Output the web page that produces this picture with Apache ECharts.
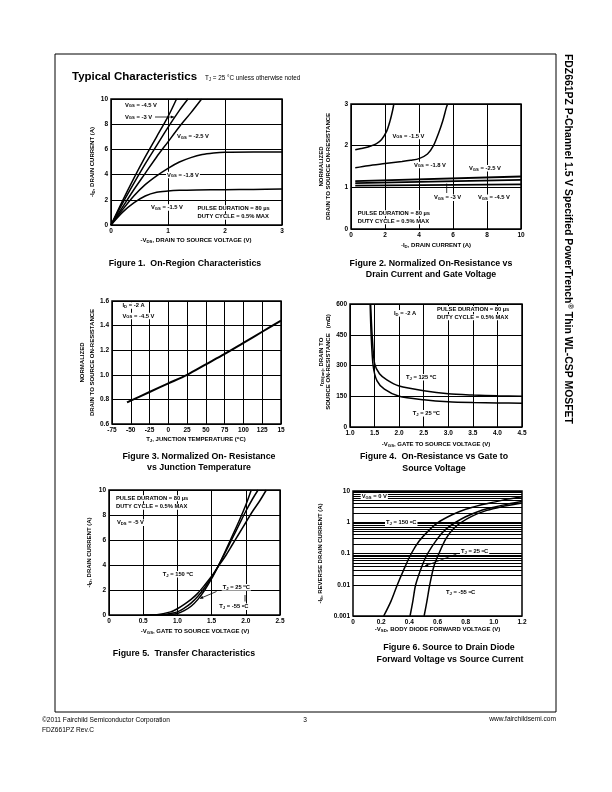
<!DOCTYPE html>
<html><head><meta charset="utf-8">
<script src="https://cdn.jsdelivr.net/npm/echarts@6/dist/echarts.min.js"></script>
<style>html,body{margin:0;padding:0;background:#fff}#c{width:612px;height:792px}</style>
</head><body><div id="c"></div>
<script>
// ---------- DATA ----------
// Figure 1: -VDS (V) vs -ID (A)
const fig1_vgs45 = [[0,0],[0.2,1.9],[0.4,3.7],[0.6,5.4],[0.8,7.0],[1.0,8.6],[1.15,10]];
const fig1_vgs3  = [[0,0],[0.2,1.7],[0.4,3.3],[0.6,4.85],[0.8,6.3],[1.0,7.75],[1.2,9.1],[1.35,10]];
const fig1_vgs25 = [[0,0],[0.2,1.4],[0.4,2.8],[0.6,4.1],[0.8,5.4],[1.0,6.6],[1.2,7.8],[1.4,8.9],[1.59,10]];
const fig1_vgs18 = [[0,0],[0.2,1.2],[0.4,2.3],[0.6,3.2],[0.8,3.9],[1.0,4.5],[1.2,5.0],[1.4,5.35],[1.6,5.6],[1.8,5.72],[2.0,5.78],[2.5,5.8],[3.0,5.8]];
const fig1_vgs15 = [[0,0],[0.2,1.0],[0.4,1.75],[0.6,2.3],[0.8,2.6],[1.0,2.7],[1.2,2.75],[1.5,2.78],[2.0,2.8],[2.5,2.82],[3.0,2.85]];
// Figure 2: -ID (A) vs normalized RDS(on)
const fig2_vgs15 = [[0.25,1.9],[0.6,1.93],[1.0,1.97],[1.5,2.05],[1.8,2.15],[2.1,2.35],[2.3,2.6],[2.45,2.85],[2.52,3.0]];
const fig2_vgs18 = [[0.25,1.47],[1,1.52],[2,1.57],[3,1.62],[3.5,1.65],[4,1.69],[4.5,1.8],[4.85,2.0],[5.15,2.3],[5.4,2.6],[5.6,2.9],[5.68,3.0]];
const fig2_vgs25 = [[0.25,1.15],[10,1.26]];
const fig2_vgs3  = [[0.25,1.1],[10,1.18]];
const fig2_vgs45 = [[0.25,1.04],[10,1.07]];
// Figure 3: TJ (°C) vs normalized RDS(on)
const fig3_temp = [-55,-50,-25,0,25,50,75,100,125,150];
const fig3_norm = [0.775,0.79,0.86,0.93,1.0,1.085,1.17,1.26,1.35,1.44];
// Figure 4: -VGS (V) vs rDS(on) (mOhm)
const fig4_tj125 = [[1.42,600],[1.45,450],[1.5,310],[1.6,260],[1.75,230],[2.0,200],[2.5,177],[3.0,162],[3.5,156],[4.0,152],[4.5,150]];
const fig4_tj25  = [[1.41,600],[1.43,450],[1.47,300],[1.55,225],[1.7,185],[2.0,150],[2.5,133],[3.0,123],[3.5,119],[4.0,117],[4.5,116]];
// Figure 5: -VGS (V) vs -ID (A)
const fig5_tj150 = [[0.5,0],[0.7,0.03],[0.9,0.25],[1.0,0.5],[1.1,0.85],[1.2,1.25],[1.3,1.75],[1.4,2.4],[1.5,3.1],[1.6,3.9],[1.7,4.7],[1.8,5.6],[1.9,6.5],[2.0,7.4],[2.1,8.3],[2.2,9.1],[2.3,10]];
const fig5_tj25  = [[0.6,0],[0.8,0.05],[1.0,0.25],[1.1,0.55],[1.2,0.95],[1.3,1.5],[1.4,2.2],[1.5,3.0],[1.6,3.95],[1.7,5.0],[1.8,6.1],[1.9,7.2],[2.0,8.3],[2.1,9.3],[2.18,10]];
const fig5_tjm55 = [[0.7,0],[0.9,0.05],[1.0,0.12],[1.1,0.35],[1.2,0.7],[1.3,1.25],[1.4,2.0],[1.5,2.9],[1.6,3.95],[1.7,5.1],[1.8,6.3],[1.9,7.5],[2.0,8.8],[2.08,10]];
// Figure 6: -VSD (V) vs -IS (A), log
const fig6_tj150 = [[0.218,0.001],[0.27,0.003],[0.315,0.01],[0.36,0.03],[0.414,0.1],[0.47,0.25],[0.53,0.5],[0.6,0.95],[0.7,1.7],[0.8,2.6],[0.9,3.5],[1.0,4.4],[1.1,5.5],[1.2,6.6]];
const fig6_tj25  = [[0.405,0.001],[0.425,0.003],[0.445,0.01],[0.49,0.04],[0.53,0.1],[0.6,0.3],[0.66,0.6],[0.73,1.0],[0.8,1.5],[0.9,2.3],[1.0,3.0],[1.1,3.8],[1.2,4.6]];
const fig6_tjm55 = [[0.505,0.001],[0.525,0.003],[0.545,0.01],[0.575,0.04],[0.61,0.1],[0.66,0.3],[0.71,0.6],[0.77,1.0],[0.85,1.6],[0.95,2.4],[1.05,3.1],[1.2,4.1]];
const fig6_yTicks = [0.001,0.01,0.1,1,10];

// ---------- STYLE ----------
const FONT = '"Liberation Sans", Arial, Helvetica, sans-serif';
function rich(size, bold){
  const w = bold ? 'bold' : 'normal';
  return {
    s:{fontSize:size*0.72, fontWeight:w, fontFamily:FONT, fill:'#000', verticalAlign:'bottom', padding:[size*0.45,0,0,0]},
    p:{fontSize:size*0.72, fontWeight:w, fontFamily:FONT, fill:'#000', verticalAlign:'top', padding:[0,0,size*0.45,0]}
  };
}
function T(x, y, text, size, o){
  o = o || {};
  const bold = o.bold !== false;
  const st = {text:text, fontSize:size, fontWeight:bold?'bold':'normal', fontFamily:FONT, fill:'#000',
    textAlign:o.align||'left', textVerticalAlign:'middle', rich:rich(size,bold)};
  if (o.bg){ st.backgroundColor = '#fff'; st.padding = o.pad || [0,1,0,1]; }
  return {type:'text', x:x, y:y, rotation:o.rot||0, z:100, silent:true, style:st};
}
function L(x1,y1,x2,y2,w){ return {type:'line', z:99, silent:true, shape:{x1,y1,x2,y2}, style:{stroke:'#000', lineWidth:w||1}}; }
function Arrow(x1,y1,x2,y2){
  const a = Math.atan2(y2-y1,x2-x1), h=3.5, s=0.45;
  return [L(x1,y1,x2,y2,0.8), {type:'polygon', z:99, silent:true, shape:{points:[[x2,y2],[x2-h*Math.cos(a-s),y2-h*Math.sin(a-s)],[x2-h*Math.cos(a+s),y2-h*Math.sin(a+s)]]}, style:{fill:'#000'}}];
}

const grids = [
  {left:111, top:99, width:171, height:126},
  {left:351, top:104, width:170, height:125},
  {left:112, top:301, width:169, height:123},
  {left:350, top:304, width:172, height:123},
  {left:109, top:490, width:171, height:125},
  {left:353, top:491, width:169, height:125}
].map(g => Object.assign({show:true, borderColor:'#000', borderWidth:1.5, backgroundColor:'transparent'}, g));

const lab = (fmt) => ({fontSize:6.5, fontWeight:'bold', fontFamily:FONT, color:'#000', margin:3, formatter:fmt});
function axis(gi, type, min, max, interval, fmt, split){
  const a = {gridIndex:gi, type:type, min:min, max:max,
    axisLine:{show:false}, axisTick:{show:false}, axisLabel:lab(fmt),
    splitLine:{show: split!==false, lineStyle:{color:'#000', width:1}}};
  if (interval) a.interval = interval;
  if (type==='log') a.logBase = 10;
  return a;
}
const f1 = v => String(v);
const xAxis = [
  axis(0,'value',0,3,1,f1),
  axis(1,'value',0,10,2,f1),
  axis(2,'value',-75,150,25,v => v===150 ? '15' : String(v)),
  axis(3,'value',1,4.5,0.5,v => v.toFixed(1)),
  axis(4,'value',0,2.5,0.5,v => v===0 ? '0' : v.toFixed(1)),
  axis(5,'value',0,1.2,0.2,v => v===0 ? '0' : v.toFixed(1), false)
];
const yAxis = [
  axis(0,'value',0,10,2,f1),
  axis(1,'value',0,3,1,f1),
  axis(2,'value',0.6,1.6,0.2,v => v.toFixed(1)),
  axis(3,'value',0,600,150,f1),
  axis(4,'value',0,10,2,f1),
  axis(5,'log',0.001,10,null,v => String(parseFloat(v.toPrecision(3))))
];

const lineS = (i, data, w, sm) => ({type:'line', xAxisIndex:i, yAxisIndex:i, data:data, showSymbol:false, symbol:'none',
  smooth:(sm===undefined?0.3:sm), silent:true, lineStyle:{color:'#000', width:w||1.5}, z:5});

// minor log grid lines for figure 6
const minorLines = [];
for (let d = 0; d < fig6_yTicks.length-1; d++)
  for (let k = 2; k <= 9; k++) minorLines.push({yAxis: parseFloat((fig6_yTicks[d]*k).toPrecision(3))});

const series = [
  lineS(0, fig1_vgs45), lineS(0, fig1_vgs3), lineS(0, fig1_vgs25), lineS(0, fig1_vgs18), lineS(0, fig1_vgs15),
  lineS(1, fig2_vgs15), lineS(1, fig2_vgs18), lineS(1, fig2_vgs25, 1.8), lineS(1, fig2_vgs3, 1.8), lineS(1, fig2_vgs45, 1.8),
  lineS(2, fig3_temp.map((t,i)=>[t, fig3_norm[i]]), 2),
  lineS(3, fig4_tj125, 1.5, 0.25), lineS(3, fig4_tj25, 1.5, 0.25),
  lineS(4, fig5_tj150), lineS(4, fig5_tj25), lineS(4, fig5_tjm55),
  Object.assign(lineS(5, fig6_tj150), {markLine:{silent:true, symbol:'none', label:{show:false}, lineStyle:{color:'#000', type:'solid', width:1.2}, data:minorLines, z:1}}),
  lineS(5, fig6_tj25), lineS(5, fig6_tjm55)
];

const AT = 6, AN = 5.8, CAP = 8.8;
const gfx = [
  // page frame
  {type:'rect', z:1, silent:true, shape:{x:55, y:54, width:501, height:658}, style:{fill:'none', stroke:'#000', lineWidth:1}},
  // header
  T(72, 76.5, 'Typical Characteristics', 11.5),
  T(205, 78, 'T{s|J} = 25 °C unless otherwise noted', 6.3, {bold:false}),
  // side title
  T(568, 54, 'FDZ661PZ P-Channel 1.5 V Specified PowerTrench{p|®} Thin WL-CSP MOSFET', 10.4, {rot:-Math.PI/2}),
  // footer
  T(42, 720, '©2011 Fairchild Semiconductor Corporation', 6.6, {bold:false}),
  T(42, 730, 'FDZ661PZ Rev.C', 6.6, {bold:false}),
  T(305, 720, '3', 6.6, {bold:false, align:'center'}),
  T(556, 719, 'www.fairchildsemi.com', 6.6, {bold:false, align:'right'}),

  // ---- Figure 1 ----
  T(92, 162, '-I{s|D}, DRAIN CURRENT (A)', AT, {rot:Math.PI/2, align:'center'}),
  T(196, 240, '-V{s|DS}, DRAIN TO SOURCE VOLTAGE (V)', AT, {align:'center'}),
  T(185, 263.5, 'Figure 1.  On-Region Characteristics', CAP, {align:'center'}),
  T(124, 105, 'V{s|GS} = -4.5 V', AN, {bg:true}),
  T(124, 117, 'V{s|GS} = -3 V', AN, {bg:true}),
  ...Arrow(155, 117, 174, 117),
  T(176, 136.5, 'V{s|GS} = -2.5 V', AN, {bg:true}),
  T(166, 175, 'V{s|GS} = -1.8 V', AN, {bg:true}),
  T(150, 207.5, 'V{s|GS} = -1.5 V', AN, {bg:true}),
  T(196.5, 208.3, 'PULSE DURATION = 80 µs', AN, {bg:true}),
  T(196.5, 216.7, 'DUTY CYCLE = 0.5% MAX', AN, {bg:true}),

  // ---- Figure 2 ----
  T(321.5, 166.5, 'NORMALIZED', AT, {rot:Math.PI/2, align:'center'}),
  T(328.5, 166.5, 'DRAIN TO SOURCE ON-RESISTANCE', AT, {rot:Math.PI/2, align:'center'}),
  T(436, 245, '-I{s|D}, DRAIN CURRENT (A)', AT, {align:'center'}),
  T(431, 263.5, 'Figure 2. Normalized On-Resistance vs', CAP, {align:'center'}),
  T(431, 274.5, 'Drain Current and Gate Voltage', CAP, {align:'center'}),
  T(391.5, 136, 'V{s|GS} = -1.5 V', AN, {bg:true}),
  T(413, 165, 'V{s|GS} = -1.8 V', AN, {bg:true}),
  T(468, 168.3, 'V{s|GS} = -2.5 V', AN, {bg:true}),
  T(433, 197.7, 'V{s|GS} = -3 V', AN, {bg:true}),
  L(446.7, 183.5, 446.7, 193, 0.8),
  T(477, 197.7, 'V{s|GS} = -4.5 V', AN, {bg:true}),
  T(356.7, 213.3, 'PULSE DURATION = 80 µs', AN, {bg:true}),
  T(356.7, 221.3, 'DUTY CYCLE = 0.5% MAX', AN, {bg:true}),

  // ---- Figure 3 ----
  T(82, 362.5, 'NORMALIZED', AT, {rot:Math.PI/2, align:'center'}),
  T(92, 362.5, 'DRAIN TO SOURCE ON-RESISTANCE', AT, {rot:Math.PI/2, align:'center'}),
  T(196, 439.5, 'T{s|J}, JUNCTION TEMPERATURE ({p|o}C)', AT, {align:'center'}),
  T(199, 456.7, 'Figure 3. Normalized On- Resistance', CAP, {align:'center'}),
  T(199, 468, 'vs Junction Temperature', CAP, {align:'center'}),
  T(121.5, 305.5, 'I{s|D} = -2 A', AN, {bg:true}),
  T(121.5, 316, 'V{s|GS} = -4.5 V', AN, {bg:true}),

  // ---- Figure 4 ----
  T(321, 362, 'r{s|DS(on)}, DRAIN TO', AT, {rot:Math.PI/2, align:'center'}),
  T(328, 362, 'SOURCE ON-RESISTANCE   (mΩ)', AT, {rot:Math.PI/2, align:'center'}),
  T(436, 444, '-V{s|GS}, GATE TO SOURCE VOLTAGE (V)', AT, {align:'center'}),
  T(434, 457, 'Figure 4.  On-Resistance vs Gate to', CAP, {align:'center'}),
  T(434, 468.3, 'Source Voltage', CAP, {align:'center'}),
  T(393, 313.3, 'I{s|D} = -2 A', AN, {bg:true}),
  T(436, 309, 'PULSE DURATION = 80 µs', AN, {bg:true}),
  T(436, 317.3, 'DUTY CYCLE = 0.5% MAX', AN, {bg:true}),
  T(405, 377.3, 'T{s|J} = 125 {p|o}C', AN, {bg:true}),
  T(411.7, 413.3, 'T{s|J} = 25 {p|o}C', AN, {bg:true}),

  // ---- Figure 5 ----
  T(89.5, 552.5, '-I{s|D}, DRAIN CURRENT (A)', AT, {rot:Math.PI/2, align:'center'}),
  T(195, 631, '-V{s|GS}, GATE TO SOURCE VOLTAGE (V)', AT, {align:'center'}),
  T(184, 653.3, 'Figure 5.  Transfer Characteristics', CAP, {align:'center'}),
  T(115, 498.3, 'PULSE DURATION = 80 µs', AN, {bg:true}),
  T(115, 506.7, 'DUTY CYCLE = 0.5% MAX', AN, {bg:true}),
  T(116, 522.7, 'V{s|DS} = -5 V', AN, {bg:true}),
  T(161.7, 574.3, 'T{s|J} = 150 {p|o}C', AN, {bg:true}),
  T(221.7, 587.3, 'T{s|J} = 25 {p|o}C', AN, {bg:true}),
  ...Arrow(216.5, 591.5, 200, 598.5),
  T(218.3, 606.7, 'T{s|J} = -55 {p|o}C', AN, {bg:true}),
  L(245, 595, 245, 601.5, 0.8),

  // ---- Figure 6 ----
  T(320, 553.5, '-I{s|S}, REVERSE DRAIN CURRENT (A)', AT, {rot:Math.PI/2, align:'center'}),
  T(437.5, 629.5, '-V{s|SD}, BODY DIODE FORWARD VOLTAGE (V)', AT, {align:'center'}),
  T(449, 648, 'Figure 6. Source to Drain Diode', CAP, {align:'center'}),
  T(450, 659.5, 'Forward Voltage vs Source Current', CAP, {align:'center'}),
  T(360.7, 496.7, 'V{s|GS} = 0 V', AN, {bg:true}),
  T(385, 522.7, 'T{s|J} = 150 {p|o}C', AN, {bg:true}),
  T(460, 551.7, 'T{s|J} = 25 {p|o}C', AN, {bg:true}),
  ...Arrow(456.5, 554, 425, 566),
  T(445, 592.7, 'T{s|J} = -55 {p|o}C', AN, {bg:true})
];

const chart = echarts.init(document.getElementById('c'), null, {renderer:'canvas'});
chart.setOption({
  animation:false,
  backgroundColor:'#fff',
  grid:grids, xAxis:xAxis, yAxis:yAxis, series:series,
  graphic:{elements:gfx}
});
</script></body></html>
